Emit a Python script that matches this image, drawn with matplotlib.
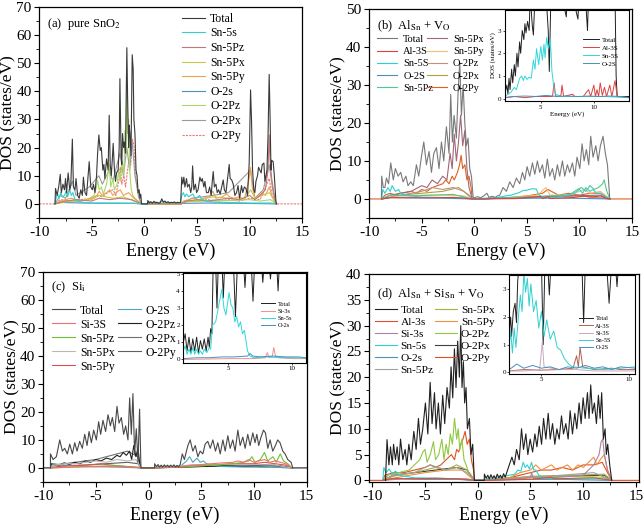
import matplotlib
matplotlib.use("Agg")
import matplotlib.pyplot as plt
from matplotlib.ticker import MultipleLocator

plt.rcParams['font.family'] = ['Liberation Serif', 'DejaVu Serif']
plt.rcParams['mathtext.fontset'] = 'stix'
plt.rcParams['axes.unicode_minus'] = False

# ---------------- Panel (a): pure SnO2 ----------------
a_total = [(-8.5,0),(-8.45,5.5),(-8.3,3),(-8.15,6),(-8.0,10.5),(-7.9,4),(-7.75,7),(-7.6,5),(-7.5,9),(-7.4,4),
           (-7.25,11),(-7.1,5),(-7.0,6.5),(-6.85,23),(-6.75,6),(-6.6,5),(-6.5,9),(-6.35,3),(-6.2,2),(-6.05,5),
           (-5.9,3),(-5.8,9.5),(-5.65,4),(-5.5,3),(-5.4,8),(-5.25,15),(-5.1,6),(-4.95,5),(-4.85,7),(-4.7,4),
           (-4.55,10),(-4.45,18),(-4.33,24.5),(-4.2,19),(-4.1,20),(-3.95,12),(-3.85,14),(-3.76,9),(-3.6,16),
           (-3.45,12),(-3.35,31.5),(-3.25,14),(-3.15,10),(-3.05,16),(-2.97,21.5),(-2.85,12),(-2.75,8),(-2.65,11),
           (-2.5,12),(-2.4,20),(-2.33,44.5),(-2.22,18),(-2.15,14),(-2.08,25),(-1.98,20),(-1.9,22),(-1.8,18),
           (-1.67,55.5),(-1.6,38),(-1.5,20),(-1.45,28),(-1.38,25),(-1.28,17),(-1.16,53),(-1.07,48),(-1.0,30),
           (-0.9,25),(-0.8,12),(-0.7,10),(-0.6,4),(-0.5,5),(-0.43,2),(-0.35,3.5),(-0.27,0),
           (0.3,0),(0.32,1.2),(0.45,0.3),(0.6,0.8),(0.75,0.2),(0.9,0.9),(1.05,0.3),(1.2,0.6),(1.35,0.2),(1.5,0.4),
           (1.65,1.8),(1.8,0.6),(1.95,1.0),(2.1,0.4),(2.25,0.8),(2.4,0.3),(2.55,0.6),(2.7,0.4),(2.85,0.7),(3.0,0.3),
           (3.15,0.6),(3.3,0.4),(3.45,0.5),(3.55,9.5),(3.65,7),(3.75,9.5),(3.85,6),(4.0,9),(4.1,6),(4.25,7),(4.4,4),
           (4.5,6),(4.58,13.5),(4.7,5),(4.85,7),(4.96,4),(5.1,5),(5.27,9.5),(5.4,8),(5.5,9),(5.65,6),(5.75,8),(5.9,4),
           (6.07,4),(6.2,6),(6.35,3),(6.45,8),(6.54,11.5),(6.65,6),(6.8,7),(6.92,4),(7.05,5),(7.2,3.5),(7.35,6),
           (7.49,8.5),(7.6,5),(7.75,4),(7.9,9),(8.06,14),(8.15,9),(8.3,8.5),(8.44,7),(8.6,3),(8.76,4),(8.9,6.5),
           (9.05,2),(9.23,6.5),(9.35,4),(9.5,6),(9.65,5.5),(9.8,3),(9.9,10),(9.96,14.5),(10.09,40.5),(10.18,30),
           (10.28,12),(10.4,5),(10.5,4),(10.6,8),(10.75,10),(10.85,13),(10.98,12),(11.1,11),(11.2,14),(11.36,14.5),
           (11.45,8),(11.55,10),(11.65,12),(11.75,24),(11.86,46),(11.95,30),(12.03,12),(12.1,15.5),(12.24,15),
           (12.35,10),(12.5,1),(12.56,0)]
a_sn5s = [(-8.5,0),(-8.4,2),(-8.25,3.5),(-8.1,2),(-7.95,4),(-7.8,2.5),(-7.6,3),(-7.45,4.5),(-7.3,2.5),(-7.1,5),
          (-6.95,3),(-6.8,4),(-6.6,1.5),(-6.4,1),(-6.0,0.6),(-5.0,0.3),(-3.0,0.3),(-1.0,0.2),(-0.3,0),(0.3,0),
          (0.4,0.8),(0.7,0.4),(1.0,0.7),(1.3,0.3),(1.7,1.0),(2.0,0.4),(2.6,0.5),(3.4,0.3),(3.55,3),(3.7,4),
          (3.85,2.5),(4.0,3.5),(4.2,2.5),(4.4,3),(4.6,3.5),(4.8,2),(5.0,2.2),(5.25,3),(5.45,1.5),(5.8,1.2),
          (6.5,0.6),(8,0.5),(10,0.3),(12,0.3),(12.5,0)]
a_sn5pz = [(-8.5,0),(-7.5,1),(-6.5,1.5),(-5,1),(-4.3,2),(-3.3,1.5),(-2.3,2),(-1.2,1.5),(-0.3,0),(3.5,0),(4,1),
           (5,1.5),(6,1),(7,1.5),(8,2),(9,1.5),(10,3),(10.5,1.5),(11,3),(11.5,5),(11.75,12),(11.86,24.5),
           (11.95,15),(12.1,9),(12.3,4),(12.5,0)]
a_sn5px = [(-8.5,0),(-7,1),(-5,1.5),(-4.3,3),(-3,2),(-2,2.5),(-1,1),(-0.3,0),(3.5,0),(4,1),(5,1.2),(6.5,2.5),
           (8,2),(9.5,1.5),(10.1,5),(10.5,2),(11.2,3),(11.9,4),(12.5,0)]
a_sn5py = [(-8.5,0),(-8,1),(-7,2),(-6,1),(-5,2),(-4.5,3),(-4.3,4.5),(-4,3),(-3.6,4),(-3.3,5),(-3,3),(-2.7,4),
           (-2.3,5),(-2,3),(-1.5,4),(-1,2),(-0.3,0),(3.5,0),(3.7,1),(4.2,1.5),(4.6,2),(5.2,1.5),(5.6,2),(6.2,2.5),
           (6.5,4.5),(6.8,2),(7.4,2.5),(7.8,3.5),(8.1,2.5),(8.5,2),(9,2.5),(9.5,1.5),(9.95,9),(10.09,13),(10.25,6),
           (10.5,2),(10.9,3),(11.2,4),(11.5,3),(11.86,6),(12.1,3),(12.5,0)]
a_o2s = [(-8.5,0),(-8,0.5),(-6,0.3),(-4,0.2),(-1,0.2),(-0.3,0),(0.3,0),(1,0.3),(3.5,0.2),(6,0.3),(9,0.2),(12.5,0)]
a_o2pz = [(-8.5,0),(-8,0.8),(-7,0.8),(-6,1),(-5.2,2),(-4.8,3),(-4.55,6),(-4.45,8.5),(-4.3,5),(-4.1,6),(-3.9,3.5),
          (-3.6,7),(-3.35,14),(-3.2,6),(-3.0,9),(-2.85,5),(-2.6,7),(-2.45,12),(-2.3,8),(-2.1,15),(-1.95,10),
          (-1.85,26),(-1.75,18),(-1.67,44),(-1.58,25),(-1.5,30),(-1.4,12),(-1.25,5),(-1.1,3),(-0.9,2),(-0.6,1),
          (-0.3,0),(0.3,0),(3.5,0),(4,0.8),(6,1),(8,1.2),(10,1.5),(11,1),(12,1.5),(12.5,0)]
a_o2px = [(-8.5,0),(-8,3),(-7.5,2),(-6.85,8),(-6.5,3),(-5.25,6),(-4.33,10),(-4,7),(-3.35,12),(-3,8),(-2.33,18),
          (-2,10),(-1.67,20),(-1.4,12),(-1.16,22),(-0.9,10),(-0.5,2),(-0.3,0),(3.5,0),(4.5,2),(6.5,3),(8,4),
          (10.09,12),(10.5,2),(11.3,5),(11.86,14),(12.2,5),(12.5,0)]
a_o2py = [(-10,0),(-8.5,0),(-8,1.5),(-7,1),(-6,1.5),(-5,2),(-4.5,3),(-4,2.5),(-3.5,4),(-3,5),(-2.7,3),(-2.45,8),
          (-2.3,13),(-2.15,7),(-1.95,10),(-1.8,6),(-1.6,12),(-1.45,16),(-1.3,14),(-1.15,23),(-1.0,21),(-0.85,10),
          (-0.6,3),(-0.4,1),(-0.3,0),(3.5,0),(4,1),(5,1),(6,1.5),(7,1),(8,1.5),(9,1),(10,2),(11,1.5),(11.86,9),
          (12.1,4),(12.5,0),(15,0)]

# ---------------- Panel (b): Al_Sn + V_O ----------------
b_total = [(-8.83,0),(-8.8,6),(-8.65,3),(-8.5,3),(-8.35,5.5),(-8.15,4),(-7.94,9.5),(-7.7,5),(-7.5,8),(-7.24,6),
           (-6.99,7),(-6.77,4.5),(-6.5,6),(-6.3,3.5),(-6.04,4.5),(-5.8,3.5),(-5.5,9),(-5.28,6),(-5.03,11),(-4.8,15),
           (-4.55,9),(-4.3,12.5),(-4.07,7),(-3.85,12),(-3.6,13.5),(-3.35,8),(-3.12,15),(-2.9,10),(-2.65,19),
           (-2.4,12),(-2.24,27.5),(-2.08,15),(-1.92,22),(-1.7,16),(-1.54,28),(-1.38,36),(-1.22,22),(-1.06,30),
           (-0.9,20),(-0.75,14),(-0.59,16),(-0.43,8),(-0.27,6),(-0.11,0.5),(0.0,0.3),(0.3,0.6),(0.6,0.3),
           (0.9,0.8),(1.2,1.5),(1.4,0.4),(1.7,0.7),(2.0,0.4),(2.2,0.8),(2.42,1),(2.74,3),(3.05,2),(3.37,4.5),
           (3.69,3),(4.0,5.5),(4.32,4),(4.58,7),(4.8,5),(5.02,8.5),(5.27,6),(5.53,9.5),(5.75,6.5),(6.0,10),
           (6.22,7),(6.48,9),(6.7,5.5),(6.95,10.5),(7.17,6),(7.43,8),(7.65,5),(7.9,9),(8.12,6),(8.38,10),(8.6,6),
           (8.85,9),(9.07,7),(9.33,9.5),(9.55,6),(9.77,11),(10.03,8),(10.25,14.5),(10.44,10),(10.66,13),
           (10.88,9),(11.07,16.5),(11.29,11),(11.55,14),(11.77,10),(11.99,14),(12.24,16.5),(12.46,12),(12.66,9),
           (12.88,0)]
b_al3s = [(-8.8,0),(-8,0.3),(-6,0.3),(-4,0.3),(-2,0.4),(-0.2,0),(0.5,0),(2,0.1),(4,0.1),(6.3,0.7),(6.5,0.1),
          (7,0.6),(7.2,0.1),(9.5,0.4),(10,0.6),(10.6,0.7),(11,0.5),(11.5,0.6),(12,0.8),(12.5,0.2),(12.9,0)]
b_sn5s = [(-8.8,0),(-8.7,2.5),(-8.5,1.5),(-8.2,3),(-8,2),(-7.8,3.5),(-7.5,2),(-7.2,2.5),(-7,1.5),(-6.5,1),
          (-6,0.8),(-5,0.5),(-3,0.4),(-1,0.3),(-0.2,0),(0.5,0),(1,0.2),(2,0.3),(3,0.8),(3.5,1),(4.3,1.7),(4.6,2.2),
          (5.0,2.3),(5.5,2.7),(5.9,2.6),(6.1,1.2),(6.5,0.3),(8,0.5),(9.5,1.5),(10,2.5),(10.3,1.5),(10.6,3),
          (11,2),(11.3,2.5),(11.6,1.5),(12,1.5),(12.5,0.5),(12.9,0)]
b_o2s = [(-8.8,0),(-8,0.4),(-6,0.3),(-3,0.2),(-0.2,0),(0.5,0),(3,0.1),(6,0.2),(9,0.2),(12.9,0)]
b_sn5pz = [(-8.8,0),(-8,1),(-6,0.8),(-4,1),(-2,1.2),(-0.2,0),(0.5,0),(3,0.3),(5,0.5),(7,0.8),(9,1),(9.8,2.5),
           (10.2,3),(10.6,2),(11,3.5),(11.4,2.5),(11.8,3),(12.2,4),(12.35,5),(12.6,2),(12.9,0)]
b_sn5px = [(-8.8,0),(-8,1),(-7,1.5),(-6,2),(-5,3.5),(-4.5,3),(-4,5),(-3.5,4),(-3,6),(-2.6,5),(-2.3,12),(-2.1,8),
           (-1.9,17),(-1.7,10),(-1.5,15),(-1.3,22),(-1.1,14),(-0.9,18),(-0.7,8),(-0.5,3),(-0.2,0),(0.5,0),(3,0.3),
           (6,0.5),(9,0.8),(12,1),(12.9,0)]
b_sn5py = [(-8.8,0),(-7,0.8),(-5,1),(-3,1),(-1,0.8),(-0.2,0),(0.5,0),(4,0.5),(6,1),(6.8,3),(7.2,1),(9,1),
           (10.5,2.5),(11,1.5),(12,2),(12.9,0)]
b_o2pz = [(-8.8,0),(-7,1),(-5,2),(-4,3),(-3,2.5),(-2,3),(-1,2),(-0.2,0),(0.5,0),(5,0.5),(10,1),(12.9,0)]
b_o2px = [(-8.8,0),(-7,1),(-5,1.5),(-3,2),(-1.5,3),(-0.5,1),(-0.2,0),(0.5,0),(5,0.4),(10,0.8),(12.9,0)]
b_o2py = [(-10,0),(-8.8,0),(-8.5,1),(-8,1.5),(-7.5,1),(-7,1.5),(-6,2),(-5.5,1.5),(-5,2.5),(-4.5,2),(-4,3),
          (-3.5,3.5),(-3,4),(-2.7,5),(-2.4,4),(-2.1,6),(-1.9,5),(-1.6,7),(-1.4,9),(-1.25,11.5),(-1.1,8),(-0.9,9),
          (-0.7,5),(-0.5,6),(-0.3,3),(-0.2,0),(0.5,0),(3,0.3),(5,0.8),(6.5,1.5),(7,2.5),(8,1),(9,1.5),(10,1),
          (11,1.5),(12,1.5),(12.9,0),(15,0)]
# inset (b)
bi_total = [(1.6,0.2),(1.8,0.6),(1.9,0.2),(2.0,0.9),(2.1,0.4),(2.25,1.3),(2.35,0.7),(2.5,1.5),(2.6,1.0),
            (2.75,2.0),(2.85,1.4),(3.0,2.5),(3.1,2.0),(3.25,3.0),(3.4,2.6),(3.5,3.3),(3.6,2.9),(3.75,3.4),
            (3.9,3.0),(4.0,4.5),(4.2,3.2),(4.3,2.8),(4.45,4.5),(5.0,4.5),(5.5,4.5),(5.7,3.0),(5.8,1.2),(5.95,4.5),
            (6.5,4.5),(7.0,4.5),(7.4,3.6),(7.5,4.5),(8.0,4.5),(8.5,3.5),(8.6,4.5),(9.2,4.5),(9.4,3.0),(9.5,4.5),
            (11.5,4.5),(12.0,4.5),(12.1,1.0),(12.2,0.1),(13.3,0.1)]
bi_al3s = [(1.6,0.05),(2.5,0.1),(3.5,0.05),(4.5,0.1),(5.5,0.1),(6.1,0.1),(6.25,0.7),(6.4,0.1),(6.9,0.15),
           (7.0,0.6),(7.15,0.1),(8.0,0.2),(8.2,0.1),(9.0,0.1),(9.5,0.4),(9.7,0.1),(10.0,0.6),(10.15,0.1),
           (10.3,0.4),(10.45,0.1),(10.6,0.7),(10.8,0.15),(11.0,0.5),(11.2,0.1),(11.5,0.6),(11.7,0.1),(12.0,0.8),
           (12.2,0.1),(13.3,0.05)]
bi_sn5s = [(1.6,0.1),(1.9,0.2),(2.2,0.3),(2.5,0.5),(2.7,0.4),(3.0,0.9),(3.2,1.0),(3.35,0.8),(3.5,1.0),
           (3.7,0.85),(3.9,0.95),(4.1,0.9),(4.3,1.7),(4.45,1.3),(4.6,2.2),(4.8,1.5),(5.0,2.3),(5.15,1.7),
           (5.3,2.4),(5.4,1.8),(5.55,2.7),(5.7,2.2),(5.9,2.6),(6.05,1.2),(6.2,0.6),(6.35,0.2),(7,0.1),(9,0.1),
           (11,0.1),(13.3,0.05)]
bi_o2s = [(1.6,0.05),(2.5,0.1),(3.5,0.12),(4.5,0.1),(5.5,0.15),(6.5,0.1),(7.5,0.12),(8.5,0.1),(9.5,0.12),
          (10.5,0.1),(11.5,0.12),(12.5,0.1),(13.3,0.05)]

# ---------------- Panel (c): Si_i ----------------
c_total = [(-9.3,0),(-9.3,5),(-9.05,3),(-8.74,4),(-8.42,10),(-8.17,6),(-7.95,7),(-7.7,5),(-7.47,8.5),(-7.22,5),
           (-7.0,9),(-6.78,6),(-6.53,9.5),(-6.28,7),(-6.05,12),(-5.83,8),(-5.64,13),(-5.42,9),(-5.2,13.5),
           (-4.95,10),(-4.73,16.5),(-4.54,12),(-4.32,17),(-4.07,13),(-3.84,19),(-3.62,15),(-3.43,18),(-3.21,13),
           (-2.99,22),(-2.8,16),(-2.58,18),(-2.36,12),(-2.17,15),(-1.95,10),(-1.79,25),(-1.63,12),(-1.48,26.5),
           (-1.32,5),(-1.16,14),(-1.0,2),(-0.85,21),(-0.72,0),
           (0.57,0),(0.58,1.5),(0.75,0.4),(0.9,1.2),(1.05,0.3),(1.2,1.0),(1.35,0.3),(1.5,1.1),(1.65,0.4),
           (1.8,1.0),(1.95,0.3),(2.1,1.0),(2.25,0.4),(2.4,1.1),(2.55,0.3),(2.7,0.9),(2.85,0.4),(3.0,1.2),
           (3.2,5),(3.4,3),(3.73,8),(3.95,10),(4.2,6),(4.43,8),(4.68,4),(4.9,6),(5.15,5),(5.37,8.5),(5.62,9.5),
           (5.85,7),(6.1,10),(6.35,6),(6.57,9),(6.8,5),(7.05,10),(7.27,6),(7.52,11.5),(7.74,7),(7.99,10),
           (8.21,6),(8.47,13.5),(8.69,8),(8.94,11),(9.16,7),(9.41,12),(9.63,8),(9.89,12.5),(10.1,9),(10.27,12),
           (10.45,8),(10.67,11),(10.9,13.5),(11.09,12.5),(11.31,7),(11.53,10),(11.78,6),(12.03,8),(12.25,10),
           (12.47,9),(12.73,6),(12.95,5),(13.2,3),(13.52,2),(13.67,0)]
c_si3s = [(-9.3,0),(-7,0.3),(-4,0.5),(-1,0.3),(-0.7,0),(0.6,0),(2,0.2),(3.2,0.5),(4,1),(5,1.2),(6,1.5),(7,1.8),
          (8,2),(8.5,2.5),(9,2),(9.5,3),(10,2),(10.5,2.5),(11,3),(11.5,2),(12,2.5),(12.5,2),(13,1.5),(13.6,0)]
c_sn5pz = [(-9.3,0),(-6,0.5),(-3,0.8),(-0.7,0),(0.6,0),(4,0.5),(6,1),(8,1.5),(9,2),(9.5,2.5),(9.8,4),(10.1,2),
           (10.6,3),(11,5.5),(11.3,2.5),(11.8,4),(12.1,2),(12.5,5),(12.8,2.5),(13.2,1.5),(13.6,0)]
c_sn5px = [(-9.3,0),(-9,1),(-8,1.5),(-7,1.5),(-6,2),(-5,2.5),(-4,2),(-3,3),(-2,2.5),(-1.2,3),(-0.72,0),(0.6,0),
           (4,1),(8,1.2),(12,1),(13.6,0)]
c_sn5py = [(-9.3,0),(-9,0.8),(-8,0.6),(-7,0.8),(-6,1),(-5,1.3),(-4.5,1.5),(-4,1.2),(-3,0.8),(-2,0.5),(-0.7,0),
           (0.6,0),(4,0.5),(6,1),(8,1.5),(10,1.5),(11,2),(12,1.5),(13,1),(13.6,0)]
c_o2s = [(-9.3,0),(-9,1.5),(-8,1),(-6,0.5),(-3,0.3),(-0.7,0),(0.6,0),(1,0.5),(2,0.6),(3,0.5),(3.3,1.5),(3.6,2.5),
         (3.9,4),(4.2,2),(4.6,3.5),(4.9,2),(5.2,2.5),(5.5,1.5),(6,1),(7,0.5),(9,0.3),(12,0.2),(13.6,0)]
c_o2pz = [(-10,0),(-9.3,0),(-9.2,1.5),(-8.5,1),(-8,1.8),(-7.5,1.2),(-7,2),(-6.5,1.5),(-6,2.5),(-5.5,2),(-5,3),
          (-4.5,2.5),(-4,3.5),(-3.5,3),(-3,4.5),(-2.7,4),(-2.4,5.5),(-2.1,4.5),(-1.8,6),(-1.6,3),(-1.4,8),(-1.2,4),
          (-1,7),(-0.85,2),(-0.72,0),(0.6,0),(1,0.3),(3,0.3),(5,0.5),(7,0.8),(9,0.6),(11,1),(13,0.5),(13.6,0),
          (15,0)]
c_o2px = [(-9.3,0),(-9,1),(-7,2),(-5,3),(-4,4),(-3,5),(-2,6),(-1.5,5),(-1,4),(-0.72,0),(0.6,0),(4,0.8),(8,1),
          (12,1),(13.6,0)]
c_o2py = [(-9.3,0),(-8,0.8),(-6,1),(-4,1.5),(-2,2),(-1,1.5),(-0.72,0),(0.6,0),(5,0.5),(10,0.6),(13.6,0)]
# inset (c)
ci_total = [(1.45,1.0),(1.6,1.5),(1.75,0.5),(1.9,1.3),(2.05,0.4),(2.2,1.2),(2.35,0.5),(2.5,1.3),(2.65,0.4),
            (2.8,1.1),(2.95,0.6),(3.1,1.2),(3.25,0.5),(3.4,1.3),(3.5,0.7),(3.6,1.8),(3.7,1.5),(3.8,5.5),(4.0,5.5),
            (4.1,3.0),(4.2,5.5),(4.5,5.5),(4.6,3.6),(4.7,5.5),(5.4,5.5),(5.55,2.5),(5.7,5.5),(6.2,5.5),(6.3,4.2),
            (6.4,5.5),(6.8,5.5),(6.93,3.4),(7.05,5.5),(7.6,5.5),(7.7,4.5),(7.8,5.5),(8.2,5.5),(8.3,4.7),(8.4,5.5),
            (8.8,5.5),(8.9,4.0),(9.0,5.5),(11.1,5.5)]
ci_si3s = [(1.45,0.0),(3,0.02),(5,0.05),(7,0.05),(7.9,0.1),(8.05,0.4),(8.2,0.1),(8.45,0.2),(8.56,0.7),
           (8.7,0.2),(9,0.1),(10,0.05),(11.1,0.05)]
ci_sn5s = [(1.45,0.5),(1.6,0.8),(1.75,0.3),(1.9,0.6),(2.05,0.3),(2.2,0.7),(2.35,0.3),(2.5,0.6),(2.65,0.3),
           (2.8,0.5),(2.95,0.3),(3.1,0.6),(3.3,0.4),(3.5,0.7),(3.6,0.6),(3.75,2.0),(4.0,2.2),(4.2,3.0),(4.48,4.1),
           (4.65,3.0),(4.8,2.6),(5.05,3.9),(5.2,3.2),(5.35,3.0),(5.5,2.2),(5.65,2.5),(5.8,1.9),(5.95,2.2),(6.1,1.5),
           (6.25,1.7),(6.4,1.0),(6.5,0.5),(6.7,0.2),(7,0.1),(8,0.15),(9,0.1),(10,0.1),(11.1,0.08)]
ci_o2s = [(1.45,0.05),(2.5,0.1),(3.5,0.1),(4.5,0.15),(5.5,0.15),(6.5,0.2),(6.7,0.35),(6.9,0.2),(7.5,0.15),
          (8.5,0.2),(9.5,0.15),(10.5,0.15),(11.1,0.1)]

# ---------------- Panel (d): Al_Sn + Si_Sn + V_O ----------------
d_total = [(-8.74,0),(-8.6,7.9),(-8.42,3),(-8.27,6.5),(-8.1,3),(-7.98,7),(-7.8,4),(-7.64,6.5),(-7.48,3),
           (-7.32,8),(-7.1,4),(-6.88,6),(-6.72,3),(-6.53,7),(-6.31,4),(-6.06,9.5),(-5.84,6),(-5.62,12),(-5.43,7),
           (-5.21,10),(-4.96,15),(-4.73,9),(-4.51,19),(-4.33,11),(-4.1,17),(-3.95,10),(-3.73,15),(-3.54,9),
           (-3.32,16.5),(-3.13,11),(-2.91,18),(-2.69,14),(-2.53,22),(-2.37,16),(-2.21,25.5),(-2.06,18),(-1.9,27),
           (-1.74,20),(-1.61,30),(-1.49,18),(-1.36,23),(-1.24,15),(-1.11,18),(-0.98,10),(-0.79,12),(-0.64,5),
           (-0.48,7),(-0.32,0),
           (0.62,0),(0.63,1.2),(0.8,0.4),(0.95,1.0),(1.1,0.3),(1.25,1.1),(1.4,0.4),(1.55,0.9),(1.7,0.3),(1.85,1.2),
           (2.0,0.5),(2.15,1.0),(2.3,0.4),(2.45,1.3),(2.6,0.6),(2.99,3),(3.24,4.5),(3.46,3),(3.68,6),(3.93,4),
           (4.15,10),(4.34,6),(4.56,9),(4.75,5),(4.97,8),(5.2,5.5),(5.42,9),(5.61,6.5),(5.83,10.5),(6.05,7),
           (6.24,12),(6.46,8),(6.68,13),(6.87,8),(7.09,11),(7.31,7),(7.5,10),(7.72,8),(7.94,12.5),(8.13,9),
           (8.35,11),(8.57,8),(8.76,13.5),(8.98,9),(9.2,13),(9.39,10),(9.61,15),(9.8,11),(9.99,16),(10.18,12),
           (10.4,17),(10.55,12),(10.71,18.5),(10.87,13),(11.06,15),(11.25,11),(11.44,16.5),(11.6,12),(11.75,17),
           (11.91,8),(12.07,10),(12.19,5),(12.32,7),(12.51,3),(12.7,0)]
d_al3s = [(-9,0),(-8,0.4),(-6,0.3),(-4,0.4),(-2,0.3),(-0.3,0),(0.5,0),(3,0.1),(5,0.2),(7,0.6),(7.2,0.3),
          (9,0.4),(11,0.5),(12.7,0)]
d_si3s = [(-9,0),(-7,0.3),(-4,0.4),(-1,0.3),(-0.3,0),(0.5,0),(3,0.2),(5,0.5),(5.1,1.5),(5.3,0.3),(7,0.5),(9,0.8),
          (10,1),(10.5,2),(11,3),(11.5,5),(11.7,7.5),(11.85,8),(12,5),(12.3,2),(12.7,0)]
d_sn5s = [(-9,0),(-8.9,2.5),(-8.7,1.5),(-8.4,2.2),(-8.1,1.2),(-7.8,1.8),(-7.4,1),(-7,0.8),(-6,0.5),(-4,0.4),
          (-2,0.3),(-0.3,0),(0.5,0),(1,0.4),(2,0.5),(3,1),(3.5,1.2),(3.8,2),(4.1,1.8),(4.3,3.5),(4.5,2.5),(4.7,3),
          (4.9,2.2),(5.1,3.5),(5.3,2),(5.5,2),(5.8,1),(6.2,0.6),(7,0.3),(9,0.3),(12,0.3),(12.7,0)]
d_o2s = [(-9,0),(-8,0.3),(-5,0.2),(-2,0.2),(-0.3,0),(0.5,0),(4,0.2),(8,0.2),(12.7,0)]
d_sn5pz = [(-9,0),(-8,1),(-6,1.5),(-4.5,3),(-3,2),(-2,2.5),(-1,1.5),(-0.3,0),(0.5,0),(4,0.5),(8,1),(11,1.5),
           (12.7,0)]
d_sn5px = [(-9,0),(-8,0.8),(-6,1.5),(-5,2),(-4,2.5),(-3,2),(-2,3),(-1,2),(-0.3,0),(0.5,0),(5,0.8),(9,1),(12,1.2),
           (12.7,0)]
d_sn5py = [(-9,0),(-7,0.8),(-5,1.5),(-3,2),(-1.5,2),(-0.3,0),(0.5,0),(3,0.5),(4,1.5),(5,2),(5.5,3),(6,2),
           (6.5,2.5),(7,3),(7.5,2),(8,2.5),(8.5,3),(9,2),(9.5,3),(10,2.5),(10.5,3.5),(11,4.5),(11.3,3),(11.6,4),
           (12,5),(12.3,2),(12.7,0)]
d_o2pz = [(-9,0),(-8.5,1),(-7.5,1.5),(-6.5,2),(-6,3),(-5.5,4),(-5.2,5.5),(-5,6),(-4.8,3.5),(-4.5,5),(-4.2,7.5),
          (-4,4),(-3.7,5),(-3.4,8),(-3.2,4),(-3.0,7),(-2.8,5),(-2.6,9),(-2.4,7),(-2.2,12),(-2.0,8),(-1.85,10),
          (-1.7,6),(-1.5,8),(-1.3,4),(-1.1,3),(-0.8,1),(-0.3,0),(0.5,0),(4,0.5),(8,0.8),(12,0.6),(12.7,0)]
d_o2px = [(-9,0),(-8,1),(-6,1.5),(-4,2),(-2,2.5),(-1,2),(-0.3,0),(0.5,0),(4,0.5),(8,0.8),(12,1),(12.7,0)]
d_o2py = [(-10.3,0),(-9,0),(-8.8,1),(-8,1.5),(-7,1.5),(-6,2),(-5,2.5),(-4.5,3),(-4,2.5),(-3.5,3),(-3,4),(-2.5,5),
          (-2.2,4),(-2,6),(-1.8,5.5),(-1.6,7),(-1.4,8),(-1.2,9.5),(-1.0,7),(-0.8,8),(-0.6,4),(-0.4,2),(-0.3,0),
          (0.5,0),(3,0.5),(4,1),(5,1.5),(6,2),(7,2),(8,2.5),(9,2),(10,3),(11,3),(11.8,3.5),(12.3,1.5),(12.7,0),
          (15.3,0)]
# inset (d)
di_total = [(3.17,1.5),(3.25,2.0),(3.3,1.3),(3.4,2.2),(3.5,2.5),(3.58,1.8),(3.65,3.3),(3.75,4.0),(5.0,4.0),
            (5.1,1.0),(5.2,4.0),(5.35,4.0),(5.45,2.8),(5.55,4.0),(7.3,4.0),(7.4,1.8),(7.5,4.0),(8.7,4.0),
            (8.85,2.5),(9.0,4.0),(9.2,4.0),(9.3,3.1),(9.4,4.0),(10.34,4.0)]
di_al3s = [(3.17,0.05),(4,0.1),(5,0.08),(6,0.1),(6.8,0.15),(7.0,0.6),(7.1,0.2),(7.2,0.9),(7.35,0.2),(8,0.1),
           (9,0.15),(9.5,0.1),(10.34,0.1)]
di_si3s = [(3.17,0.05),(4,0.05),(4.9,0.1),(5.05,1.1),(5.15,0.2),(6,0.1),(7,0.1),(8,0.05),(10.34,0.05)]
di_sn5s = [(3.17,1.0),(3.25,1.5),(3.35,0.7),(3.45,1.6),(3.55,0.9),(3.65,1.7),(3.8,2.8),(3.9,2.2),(4.0,3.6),
           (4.1,2.9),(4.2,3.4),(4.3,2.4),(4.4,3.2),(4.55,2.2),(4.7,2.6),(4.85,1.6),(5.0,2.2),(5.15,1.3),(5.3,1.9),
           (5.5,1.2),(5.7,1.5),(5.9,0.9),(6.1,0.8),(6.3,0.5),(6.55,0.3),(6.76,0.2),(7.5,0.15),(8.5,0.1),(9.5,0.15),
           (10.34,0.2)]
di_o2s = [(3.17,0.1),(3.6,0.3),(4.0,0.15),(4.5,0.25),(5.0,0.15),(5.5,0.2),(6.0,0.1),(6.5,0.2),(7.0,0.15),
          (7.5,0.25),(8.0,0.15),(8.5,0.2),(9.0,0.1),(9.5,0.2),(10.34,0.15)]

# ---------------- Drawing ----------------
LW = 0.8


def draw(ax, data, color, label=None, lw=LW, ls='-'):
    e = [p[0] for p in data]
    v = [p[1] for p in data]
    ax.plot(e, v, color=color, lw=lw, ls=ls, label=label)


def style_main(ax, xlim, ylim, ymaj):
    ax.set_xlim(*xlim)
    ax.set_ylim(*ylim)
    ax.xaxis.set_major_locator(MultipleLocator(5))
    ax.xaxis.set_minor_locator(MultipleLocator(2.5))
    ax.yaxis.set_major_locator(MultipleLocator(ymaj))
    ax.yaxis.set_minor_locator(MultipleLocator(ymaj / 2))
    ax.tick_params(labelsize=11, width=0.8, length=3.5, pad=2)
    ax.tick_params(which='minor', width=0.6, length=2)
    ax.set_xlabel('Energy (eV)', fontsize=13, labelpad=3)
    ax.set_ylabel('DOS (states/eV)', fontsize=12.5, labelpad=0)
    for s in ax.spines.values():
        s.set_linewidth(0.9)


def style_inset(ax, xlim, ylim, xlabel=False, ylabel=False):
    ax.set_xlim(*xlim)
    ax.set_ylim(*ylim)
    ax.xaxis.set_major_locator(MultipleLocator(5))
    ax.yaxis.set_major_locator(MultipleLocator(1))
    ax.tick_params(labelsize=5, width=0.5, length=1.5, pad=1)
    if xlabel:
        ax.set_xlabel('Energy (eV)', fontsize=5, labelpad=1)
    if ylabel:
        ax.set_ylabel('DOS (states/eV)', fontsize=5, labelpad=1)
    for s in ax.spines.values():
        s.set_linewidth(0.8)


def main_legend(ax, anchor, fs, ls, ncol=1, cs=0.3, hl=1.95, htp=0.4):
    h, l = ax.get_legend_handles_labels()
    ax.legend(h[::-1], l[::-1], loc='upper left', bbox_to_anchor=anchor, ncol=ncol, frameon=False,
              fontsize=fs, handlelength=hl, handletextpad=htp, labelspacing=ls, columnspacing=cs,
              borderaxespad=0)


def inset_legend(ax, anchor, fs):
    ax.legend(loc='upper left', bbox_to_anchor=anchor, frameon=False, fontsize=fs, handlelength=2.3,
              handletextpad=0.4, labelspacing=0.3, borderaxespad=0, borderpad=0.2)


fig = plt.figure(figsize=(6.43, 5.29), dpi=100)

# Panel (a)
ax = fig.add_axes([0.061, 0.588, 0.409, 0.399])
draw(ax, a_o2py, '#f07878', 'O-2Py', ls=(0, (2, 1)))
draw(ax, a_o2px, '#9a9a9a', 'O-2Px')
draw(ax, a_o2pz, '#a8d868', 'O-2Pz')
draw(ax, a_o2s, '#4a90b8', 'O-2s')
draw(ax, a_sn5py, '#f0a050', 'Sn-5Py')
draw(ax, a_sn5px, '#c8c850', 'Sn-5Px')
draw(ax, a_sn5pz, '#c07878', 'Sn-5Pz')
draw(ax, a_sn5s, '#30d0d0', 'Sn-5s')
draw(ax, a_total, '#3a3a3a', 'Total')
style_main(ax, (-10, 15), (-5, 70), 10)
main_legend(ax, (0.526, 0.994), 8.5, 0.22)
ax.text(0.03, 0.955, r'(a)  pure SnO$_2$', transform=ax.transAxes, fontsize=9, va='top')

# Panel (b)
ax = fig.add_axes([0.574, 0.588, 0.409, 0.395])
order_b = [('Total', b_total, '#7a7a7a'), ('Al-3S', b_al3s, '#e04040'), ('Sn-5S', b_sn5s, '#30d0d0'),
           ('O-2S', b_o2s, '#4a90b8'), ('Sn-5Pz', b_sn5pz, '#50c890'), ('Sn-5Px', b_sn5px, '#a06878'),
           ('Sn-5Py', b_sn5py, '#f0c070'), ('O-2Pz', b_o2pz, '#c09080'), ('O-2Px', b_o2px, '#b0a040'),
           ('O-2Py', b_o2py, '#e06020')]
for name, data, col in order_b[::-1]:
    draw(ax, data, col, name)
style_main(ax, (-10, 15), (-5, 50), 10)
main_legend(ax, (0.015, 0.897), 7.5, 0.28, ncol=2, cs=-0.6, hl=1.9, htp=0.6)
ax.text(0.03, 0.955, r'(b)  Al$_{\mathrm{Sn}}$ + V$_{\mathrm{O}}$', transform=ax.transAxes, fontsize=9, va='top')
ins = fig.add_axes([0.785, 0.809, 0.193, 0.172])
draw(ins, bi_total, '#202020', 'Total', lw=0.7)
draw(ins, bi_al3s, '#e04040', 'Al-3S', lw=0.7)
draw(ins, bi_sn5s, '#30d8d8', 'Sn-5S', lw=0.7)
draw(ins, bi_o2s, '#4a90b8', 'O-2S', lw=0.7)
style_inset(ins, (1.6, 13.3), (-0.1, 3.9), xlabel=True, ylabel=True)
inset_legend(ins, (0.62, 0.72), 5)

# Panel (c)
ax = fig.add_axes([0.067, 0.089, 0.41, 0.397])
order_c = [('Total', c_total, '#484848'), ('Si-3S', c_si3s, '#f07070'), ('Sn-5Pz', c_sn5pz, '#70c030'),
           ('Sn-5Px', c_sn5px, '#b8b8b8'), ('Sn-5Py', c_sn5py, '#e05050'), ('O-2S', c_o2s, '#50a8c0'),
           ('O-2Pz', c_o2pz, '#202020'), ('O-2Px', c_o2px, '#707070'), ('O-2Py', c_o2py, '#606060')]
for name, data, col in order_c[::-1]:
    draw(ax, data, col, name)
style_main(ax, (-10, 15), (-5, 70), 10)
main_legend(ax, (0.016, 0.867), 8.5, 0.17, ncol=2, cs=0.3, hl=1.95, htp=0.4)
ax.text(0.03, 0.965, r'(c)  Si$_{\mathrm{i}}$', transform=ax.transAxes, fontsize=9, va='top')
ins = fig.add_axes([0.285, 0.314, 0.191, 0.170])
draw(ins, ci_total, '#202020', 'Total', lw=0.7)
draw(ins, ci_si3s, '#f09090', 'Si-3s', lw=0.7)
draw(ins, ci_sn5s, '#30d8d8', 'Sn-5s', lw=0.7)
draw(ins, ci_o2s, '#4a90b8', 'O-2s', lw=0.7)
style_inset(ins, (1.45, 11.1), (-0.2, 5.05))
inset_legend(ins, (0.62, 0.7), 4.5)

# Panel (d)
ax = fig.add_axes([0.574, 0.089, 0.42, 0.393])
order_d = [('Total', d_total, '#202020'), ('Al-3s', d_al3s, '#e05030'), ('Si-3s', d_si3s, '#b080a0'),
           ('Sn-5s', d_sn5s, '#30d0d0'), ('O-2s', d_o2s, '#4a90b8'), ('Sn-5Pz', d_sn5pz, '#a0a0a0'),
           ('Sn-5Px', d_sn5px, '#a8b040'), ('Sn-5Py', d_sn5py, '#f09040'), ('O-2Pz', d_o2pz, '#90c840'),
           ('O-2Px', d_o2px, '#404040'), ('O-2Py', d_o2py, '#e05020')]
for name, data, col in order_d[::-1]:
    draw(ax, data, col, name)
style_main(ax, (-10.3, 15.3), (-0.3, 40), 5)
main_legend(ax, (0.005, 0.875), 8.2, 0.18, ncol=2, cs=0.15, hl=1.9, htp=0.35)
ax.text(0.03, 0.94, r'(d)  Al$_{\mathrm{Sn}}$ + Si$_{\mathrm{Sn}}$ + V$_{\mathrm{O}}$', transform=ax.transAxes,
        fontsize=9, va='top')
ins = fig.add_axes([0.792, 0.293, 0.196, 0.187])
draw(ins, di_total, '#202020', 'Total', lw=0.7)
draw(ins, di_al3s, '#b06050', 'Al-3S', lw=0.7)
draw(ins, di_si3s, '#c8a8c0', 'Si-3S', lw=0.7)
draw(ins, di_sn5s, '#30d0d0', 'Sn-5S', lw=0.7)
draw(ins, di_o2s, '#4a90b8', 'O-2S', lw=0.7)
style_inset(ins, (3.17, 10.34), (-0.06, 3.52))
inset_legend(ins, (0.54, 0.6), 4.5)

fig.savefig('out.png', dpi=100)
